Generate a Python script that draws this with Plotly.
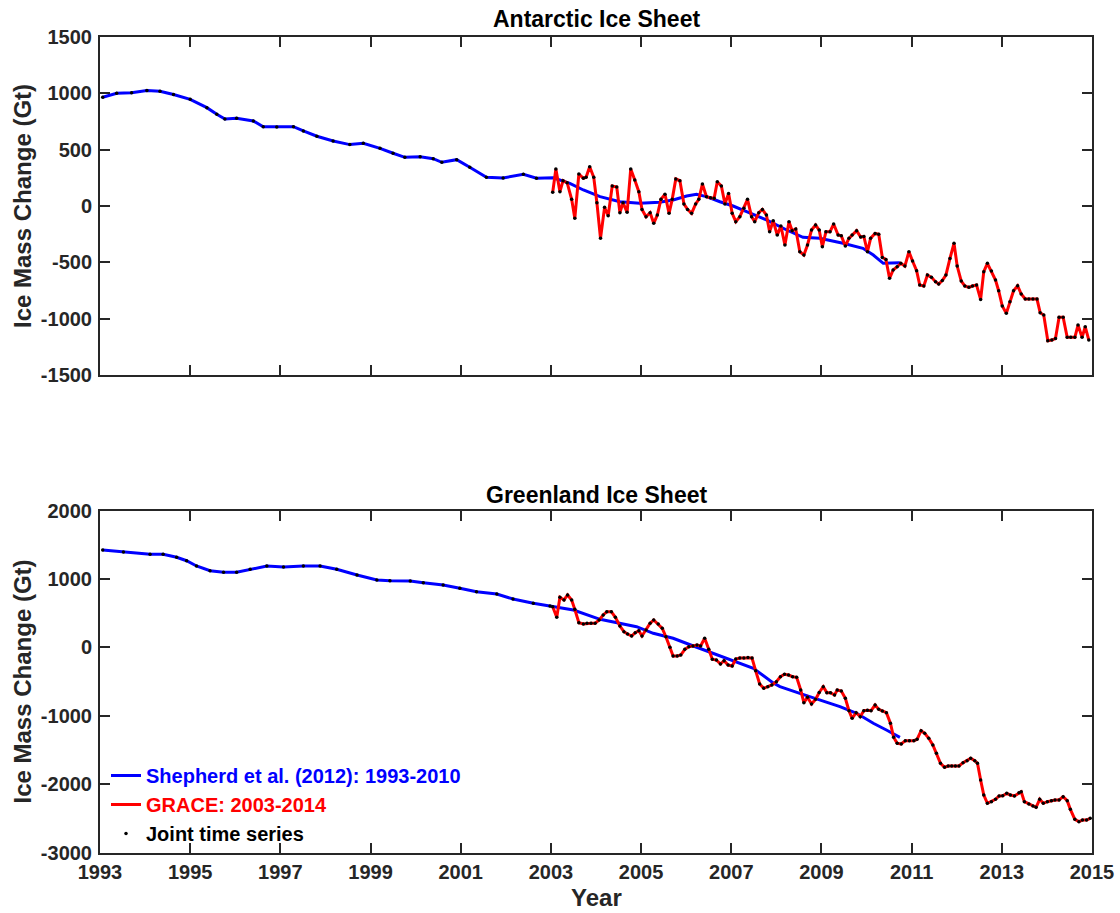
import plotly.graph_objects as go

# ---------------- data ----------------
ant_shep_year = [1993.06, 1993.37, 1993.70, 1994.04, 1994.33, 1994.63, 1995.00, 1995.37, 1995.59, 1995.77,
                 1996.03, 1996.40, 1996.62, 1996.92, 1997.29, 1997.51, 1997.81, 1998.17, 1998.54, 1998.84,
                 1999.21, 1999.50, 1999.76, 2000.10, 2000.39, 2000.58, 2000.91, 2001.20, 2001.57, 2001.94,
                 2002.39, 2002.68, 2003.05, 2003.42, 2003.72, 2004.09, 2004.53, 2004.97, 2005.41, 2005.71,
                 2006.01, 2006.23, 2006.45, 2006.75, 2007.04, 2007.34, 2007.78, 2008.23, 2008.59, 2008.96,
                 2009.48, 2009.92, 2010.15, 2010.37, 2010.74]
ant_shep_val = [965, 1000, 1005, 1025, 1018, 990, 947, 873, 814, 772,
                779, 755, 704, 702, 704, 666, 619, 577, 545, 557,
                512, 468, 432, 438, 420, 388, 411, 344, 255, 249,
                281, 246, 250, 201, 142, 83, 38, 24, 33, 53,
                89, 104, 83, 38, 0, -50, -124, -213, -278, -287,
                -331, -376, -435, -509, -503]

ant_grace_year = [2003.04, 2003.11, 2003.20, 2003.27, 2003.36, 2003.46, 2003.53, 2003.62, 2003.72, 2003.78,
                  2003.86, 2003.95, 2004.02, 2004.10, 2004.19, 2004.27, 2004.36, 2004.46, 2004.53, 2004.60,
                  2004.69, 2004.77, 2004.86, 2004.95, 2005.02, 2005.11, 2005.20, 2005.28, 2005.36, 2005.44,
                  2005.53, 2005.62, 2005.69, 2005.77, 2005.86, 2005.95, 2006.03, 2006.12, 2006.21, 2006.28,
                  2006.36, 2006.45, 2006.54, 2006.62, 2006.69, 2006.78, 2006.86, 2006.94, 2007.02, 2007.10,
                  2007.19, 2007.28, 2007.36, 2007.45, 2007.52, 2007.61, 2007.69, 2007.78, 2007.85, 2007.93,
                  2008.02, 2008.10, 2008.19, 2008.28, 2008.35, 2008.43, 2008.52, 2008.61, 2008.69, 2008.78,
                  2008.87, 2008.95, 2009.02, 2009.10, 2009.19, 2009.27, 2009.37, 2009.44, 2009.53, 2009.61,
                  2009.68, 2009.78, 2009.87, 2009.94, 2010.02, 2010.09, 2010.19, 2010.27, 2010.35, 2010.43,
                  2010.51, 2010.59, 2010.68, 2010.76, 2010.85, 2010.94, 2011.02, 2011.11, 2011.18, 2011.27,
                  2011.35, 2011.44, 2011.53, 2011.60, 2011.68, 2011.76, 2011.85, 2011.94, 2012.01, 2012.10,
                  2012.18, 2012.27, 2012.35, 2012.44, 2012.53, 2012.60, 2012.68, 2012.77, 2012.86, 2012.93,
                  2013.01, 2013.10, 2013.18, 2013.26, 2013.35, 2013.43, 2013.52, 2013.60, 2013.69, 2013.78,
                  2013.85, 2013.93, 2014.02, 2014.11, 2014.19, 2014.27, 2014.36, 2014.45, 2014.53, 2014.62,
                  2014.69, 2014.78, 2014.85, 2014.93]
ant_grace_val = [122, 329, 127, 225, 207, 59, -109, 284, 246, 255,
                 349, 255, 29, -287, -12, -86, 178, 169, -59, 29,
                 -56, 329, 231, 127, -30, -95, -59, -154, -80, 59,
                 104, -65, 59, 240, 225, 18, -30, -65, 18, 59,
                 195, 83, 74, 68, 216, 178, 18, 112, -65, -139,
                 -95, -21, 59, -95, -139, -59, -30, -80, -228, -131,
                 -258, -178, -346, -139, -219, -205, -406, -435, -346, -213,
                 -169, -213, -361, -228, -228, -160, -258, -265, -355, -287,
                 -258, -219, -275, -270, -406, -287, -243, -250, -456, -474,
                 -642, -568, -539, -509, -533, -406, -488, -574, -701, -710,
                 -613, -633, -672, -692, -662, -613, -465, -331, -533, -666,
                 -710, -722, -710, -701, -829, -583, -509, -577, -657, -752,
                 -888, -953, -850, -752, -708, -781, -826, -826, -826, -826,
                 -947, -968, -1196, -1190, -1175, -988, -988, -1166, -1166, -1166,
                 -1057, -1166, -1072, -1190]

grn_shep_year = [1993.06, 1993.52, 1994.11, 1994.40, 1994.70, 1994.92, 1995.14, 1995.44, 1995.74, 1996.03,
                 1996.33, 1996.70, 1997.07, 1997.51, 1997.88, 1998.25, 1998.70, 1999.14, 1999.43, 1999.88,
                 2000.17, 2000.61, 2000.98, 2001.35, 2001.80, 2002.16, 2002.61, 2002.98, 2003.50, 2004.09,
                 2004.53, 2004.90, 2005.27, 2005.71, 2006.16, 2006.60, 2007.04, 2007.49, 2007.93, 2008.08,
                 2008.52, 2008.96, 2009.41, 2009.78, 2010.15, 2010.44, 2010.74]
grn_shep_val = [1423, 1393, 1359, 1359, 1316, 1266, 1189, 1120, 1096, 1096,
                1140, 1189, 1174, 1189, 1189, 1140, 1057, 984, 974, 969,
                945, 911, 862, 813, 779, 706, 643, 604, 545, 409,
                351, 301, 205, 132, 19, -88, -186, -307, -520, -575,
                -673, -770, -868, -965, -1111, -1209, -1316]

grn_grace_year = [2003.04, 2003.13, 2003.20, 2003.29, 2003.37, 2003.46, 2003.53, 2003.62, 2003.72, 2003.80,
                  2003.89, 2003.98, 2004.07, 2004.16, 2004.24, 2004.34, 2004.43, 2004.53, 2004.62, 2004.70,
                  2004.79, 2004.87, 2004.95, 2005.02, 2005.11, 2005.20, 2005.28, 2005.38, 2005.47, 2005.55,
                  2005.64, 2005.71, 2005.80, 2005.88, 2005.97, 2006.06, 2006.15, 2006.24, 2006.32, 2006.41,
                  2006.50, 2006.58, 2006.67, 2006.76, 2006.84, 2006.93, 2007.02, 2007.10, 2007.19, 2007.28,
                  2007.37, 2007.46, 2007.54, 2007.63, 2007.72, 2007.81, 2007.90, 2008.00, 2008.09, 2008.18,
                  2008.27, 2008.36, 2008.45, 2008.54, 2008.61, 2008.69, 2008.78, 2008.87, 2008.95, 2009.04,
                  2009.12, 2009.20, 2009.29, 2009.35, 2009.44, 2009.53, 2009.61, 2009.68, 2009.77, 2009.86,
                  2009.94, 2010.02, 2010.10, 2010.19, 2010.27, 2010.35, 2010.44, 2010.53, 2010.60, 2010.68,
                  2010.77, 2010.86, 2010.95, 2011.05, 2011.12, 2011.21, 2011.29, 2011.38, 2011.47, 2011.55,
                  2011.64, 2011.73, 2011.81, 2011.89, 2011.97, 2012.05, 2012.14, 2012.23, 2012.31, 2012.40,
                  2012.46, 2012.53, 2012.60, 2012.68, 2012.77, 2012.86, 2012.94, 2013.02, 2013.11, 2013.19,
                  2013.28, 2013.38, 2013.43, 2013.50, 2013.60, 2013.69, 2013.76, 2013.84, 2013.92, 2014.01,
                  2014.10, 2014.18, 2014.27, 2014.36, 2014.45, 2014.52, 2014.62, 2014.71, 2014.79, 2014.88,
                  2014.96]
grn_grace_val = [594, 439, 731, 692, 765, 692, 555, 360, 341, 350,
                 350, 350, 399, 472, 521, 521, 439, 311, 228, 194,
                 165, 213, 243, 165, 253, 351, 399, 341, 277, 155,
                 0, -127, -127, -113, -29, 9, 19, 34, 19, 132,
                 -29, -175, -186, -244, -196, -259, -273, -171, -157, -157,
                 -150, -157, -342, -537, -600, -576, -551, -503, -430, -395,
                 -405, -430, -439, -624, -810, -731, -829, -760, -660, -576,
                 -663, -663, -697, -624, -640, -746, -927, -1038, -956, -1014,
                 -927, -920, -927, -844, -907, -930, -956, -1111, -1316, -1404,
                 -1414, -1365, -1365, -1365, -1345, -1219, -1258, -1330, -1428, -1550,
                 -1696, -1754, -1735, -1735, -1735, -1735, -1687, -1658, -1623, -1658,
                 -1696, -1940, -2159, -2281, -2257, -2222, -2174, -2170, -2135, -2159,
                 -2174, -2125, -2111, -2257, -2291, -2320, -2339, -2222, -2281, -2257,
                 -2242, -2232, -2232, -2184, -2242, -2369, -2515, -2549, -2525, -2525,
                 -2500]

x_ticks = [1993, 1995, 1997, 1999, 2001, 2003, 2005, 2007, 2009, 2011, 2013, 2015]
ant_y_ticks = [-1500, -1000, -500, 0, 500, 1000, 1500]
grn_y_ticks = [-3000, -2000, -1000, 0, 1000, 2000]

titles = ["Antarctic Ice Sheet", "Greenland Ice Sheet"]
y_label = "Ice Mass Change (Gt)"
x_label = "Year"
legend_names = ["Shepherd et al. (2012): 1993-2010", "GRACE: 2003-2014", "Joint time series"]
joint_start = 2003.0

# ---------------- figure ----------------
W, H = 1120, 913
FONT = "Liberation Sans, Arial, Helvetica, sans-serif"
AX = "#262626"

def joint(sy, sv, gy, gv):
    jy = [y for y in sy if y < joint_start] + list(gy)
    jv = [v for y, v in zip(sy, sv) if y < joint_start] + list(gv)
    return jy, jv

fig = go.Figure()
panels = [
    ("x", "y", ant_shep_year, ant_shep_val, ant_grace_year, ant_grace_val, False),
    ("x2", "y2", grn_shep_year, grn_shep_val, grn_grace_year, grn_grace_val, True),
]
for xa, ya, sy, sv, gy, gv, show in panels:
    fig.add_trace(go.Scatter(x=sy, y=sv, xaxis=xa, yaxis=ya, mode="lines",
                             line=dict(color="#0000ff", width=3),
                             name='<span style="color:#0000ff">%s</span>' % legend_names[0],
                             showlegend=show))
    fig.add_trace(go.Scatter(x=gy, y=gv, xaxis=xa, yaxis=ya, mode="lines",
                             line=dict(color="#ff0000", width=3),
                             name='<span style="color:#ff0000">%s</span>' % legend_names[1],
                             showlegend=show))
    jy, jv = joint(sy, sv, gy, gv)
    fig.add_trace(go.Scatter(x=jy, y=jv, xaxis=xa, yaxis=ya, mode="markers",
                             marker=dict(color="black", size=3.5),
                             name='<span style="color:#000000">%s</span>' % legend_names[2],
                             showlegend=show))

xdom = [100 / W, 1092 / W]
top_dom = [1 - 375 / H, 1 - 37 / H]
bot_dom = [1 - 852.5 / H, 1 - 510.5 / H]

tickfont = dict(family=FONT, size=20, color=AX, weight="bold")
common = dict(showline=True, linecolor=AX, linewidth=2, mirror="ticks",
              ticks="inside", ticklen=10, tickwidth=2, tickcolor=AX,
              showgrid=False, zeroline=False, tickfont=tickfont, automargin=False)

fig.update_layout(
    width=W, height=H,
    margin=dict(l=0, r=0, t=0, b=0, autoexpand=False),
    paper_bgcolor="white", plot_bgcolor="white",
    xaxis=dict(domain=xdom, anchor="y", range=[1993, 2015], tickvals=x_ticks,
               showticklabels=False, **common),
    yaxis=dict(domain=top_dom, anchor="x", range=[-1500, 1500], tickvals=ant_y_ticks,
               ticktext=[str(v) for v in ant_y_ticks], ticklabelstandoff=2, **common),
    xaxis2=dict(domain=xdom, anchor="y2", range=[1993, 2015], tickvals=x_ticks,
                ticktext=[str(v) for v in x_ticks], **common),
    yaxis2=dict(domain=bot_dom, anchor="x2", range=[-3000, 2000], tickvals=grn_y_ticks,
                ticktext=[str(v) for v in grn_y_ticks], ticklabelstandoff=2, **common),
    showlegend=True,
    legend=dict(x=106 / W, y=1 - 756 / H, xanchor="left", yanchor="top",
                bgcolor="rgba(0,0,0,0)", borderwidth=0,
                font=dict(family=FONT, size=20, weight="bold"),
                itemwidth=30, tracegroupgap=0),
)

ann_font = dict(family=FONT, size=23, color="black", weight="bold")
xc = (xdom[0] + xdom[1]) / 2
fig.add_annotation(text=titles[0], x=xc, y=1 - 19 / H, xref="paper", yref="paper",
                   showarrow=False, font=ann_font, xanchor="center", yanchor="middle")
fig.add_annotation(text=titles[1], x=xc, y=1 - 495 / H, xref="paper", yref="paper",
                   showarrow=False, font=ann_font, xanchor="center", yanchor="middle")
lab_font = dict(family=FONT, size=24, color=AX, weight="bold")
for dom in (top_dom, bot_dom):
    fig.add_annotation(text=y_label, x=22 / W, y=(dom[0] + dom[1]) / 2, xref="paper", yref="paper",
                       showarrow=False, font=lab_font, textangle=-90,
                       xanchor="center", yanchor="middle")
fig.add_annotation(text=x_label, x=xc, y=1 - 897 / H, xref="paper", yref="paper",
                   showarrow=False, font=lab_font, xanchor="center", yanchor="middle")

fig.write_html("out.html")
